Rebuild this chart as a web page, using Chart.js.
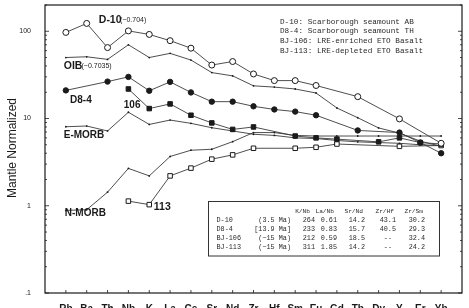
<!DOCTYPE html>
<html>
<head>
<meta charset="utf-8">
<script src="https://cdn.jsdelivr.net/npm/chart.js@4.4.1/dist/chart.umd.min.js"></script>
<style>
  html, body { margin: 0; padding: 0; background: #fff; }
  #wrap { width: 469px; height: 308px; }
</style>
</head>
<body>
<div id="wrap"><canvas id="spiderCanvas"></canvas></div>
<script>
// --------------------
// Data (mantle normalized)
// --------------------
const elements = ['Rb','Ba','Th','Nb','K','La','Ce','Sr','Nd','Zr','Hf','Sm','Eu','Gd','Tb','Dy','Y','Er','Yb'];

const d10   = [97, 123, 65, 101, 92, 78, 64, 41, 45, 32.4, 27.2, 27.2, 23.9, null, 17.8, null, 9.9, null, 5.2];
const oib   = [50, 51, 47.6, 70, 50, 55.8, 46.8, 33.6, 30.8, 23.7, 22.9, 21.8, 19.6, 13.2, 10.2, 7.8, 6.8, 5.5, 4.8];
const d84   = [21, null, 26.5, 30, 20.8, 26.3, 19.9, 15.6, 15.6, 13.8, 12.7, 12, 10.9, null, 7.3, null, 6.9, 5.3, 4.0];
const bj106 = [null, null, null, 21.8, 13, 14.7, 10.9, 8.9, 7.5, 8.0, null, 6.3, 6.0, 5.8, null, 5.4, 6.0, 5.3, 5.1];
const emorb = [8.05, 8.2, 7.2, 11.8, 8.55, 9.6, 8.8, 7.84, 7.2, 6.6, 6.4, 6.0, 5.9, 5.6, 5.4, 5.3, 5.2, 5.0, 4.9];
const nmorb = [0.885, 0.9, 1.43, 2.68, 2.2, 3.67, 4.33, 4.44, 5.43, 6.9, 6.9, 6.4, 6.3, 6.3, 6.3, 6.3, 6.3, 6.3, 6.3];
const bj113 = [null, null, null, 1.13, 1.03, 2.2, 2.7, 3.42, 3.83, 4.56, null, 4.56, 4.68, 5.1, null, null, 4.8, null, 4.9];

// sample descriptions and ratio table
const legendLines = [
    'D-10: Scarborough seamount AB',
    'D8-4: Scarborough seamount TH',
    'BJ-106: LRE-enriched ETO Basalt',
    'BJ-113: LRE-depleted ETO Basalt'
];
const tableHeaders = ['K/Nb', 'La/Nb', 'Sr/Nd', 'Zr/Hf', 'Zr/Sm'];
const sampleNames = ['D-10', 'D8-4', 'BJ-106', 'BJ-113'];
const sampleAges  = ['(3.5 Ma)', '[13.9 Ma]', '(~15 Ma)', '(~15 Ma)'];
const kNb  = ['264', '233', '212', '311'];
const laNb = ['0.61', '0.83', '0.59', '1.85'];
const srNd = ['14.2', '15.7', '18.5', '14.2'];
const zrHf = ['43.1', '40.5', '--', '--'];
const zrSm = ['30.2', '29.3', '32.4', '24.2'];

// --------------------
// Helpers
// --------------------
const toPoints = arr => arr.map((v, i) => ({ x: i, y: v }));
const INK = '#1a1a1a';
const LINE = '#3a3a3a';
const BOLD_FONT = '"Liberation Sans Narrow", "Liberation Sans", Arial, sans-serif';
const MONO_FONT = '"Liberation Mono", "DejaVu Sans Mono", monospace';

function series(data, opts) {
    return Object.assign({
        data: toPoints(data),
        borderColor: LINE,
        borderWidth: 0.9,
        pointBorderColor: INK,
        pointBorderWidth: 1,
        spanGaps: true,
        tension: 0
    }, opts);
}

// no extra label padding around the plot box
function fixBox(size) {
    return s => {
        if (s.isHorizontal()) s.height = size; else s.width = size;
        s.paddingTop = 0; s.paddingBottom = 0;
        s.paddingLeft = 0; s.paddingRight = 0;
    };
}

// --------------------
// Decorations: frame, inward ticks, labels, legend, table
// --------------------
const decorPlugin = {
    id: 'decor',
    afterDatasetsDraw(chart) {
        const { ctx, chartArea: a, scales: { x, y } } = chart;
        ctx.save();

        // frame
        ctx.strokeStyle = INK;
        ctx.lineWidth = 1.2;
        ctx.strokeRect(a.left, a.top, a.right - a.left, a.bottom - a.top);

        // inward y ticks, left and right
        ctx.lineWidth = 0.8;
        for (let e = -1; e <= 2; e++) {
            for (let m = 1; m <= 9; m++) {
                const v = m * Math.pow(10, e);
                if (v < 0.1 || v > 200) continue;
                const py = y.getPixelForValue(v);
                const len = m === 1 ? 4 : 2;
                ctx.beginPath();
                ctx.moveTo(a.left, py); ctx.lineTo(a.left + len, py);
                ctx.moveTo(a.right, py); ctx.lineTo(a.right - len, py);
                ctx.stroke();
            }
        }
        // inward x ticks
        elements.forEach((el, i) => {
            const px = x.getPixelForValue(i);
            ctx.beginPath();
            ctx.moveTo(px, a.bottom); ctx.lineTo(px, a.bottom - 3);
            ctx.stroke();
        });

        // series labels, placed in data space
        const label = (text, xi, yv, size, bold) => {
            ctx.font = (bold ? 'bold ' : '') + size + 'px ' + BOLD_FONT;
            ctx.fillStyle = INK;
            ctx.textAlign = 'left';
            ctx.textBaseline = 'middle';
            ctx.fillText(text, x.getPixelForValue(xi), y.getPixelForValue(yv));
        };
        label('D-10', 1.58, 133, 10.5, true);
        label('(~0.704)', 2.6, 133, 7, false);
        label('OIB', -0.1, 40, 10.5, true);
        label('(~0.7035)', 0.75, 40, 7, false);
        label('D8-4', 0.2, 16.4, 10, true);
        label('106', 2.78, 14.3, 10, true);
        label('E-MORB', -0.1, 6.4, 10, true);
        label('N-MORB', -0.05, 0.82, 10, true);
        label('113', 4.22, 0.96, 10.5, true);

        // sample description lines
        ctx.font = '7.7px ' + MONO_FONT;
        ctx.fillStyle = '#2a2a2a';
        ctx.textBaseline = 'middle';
        ctx.textAlign = 'left';
        legendLines.forEach((t, i) => ctx.fillText(t, 280, 21.7 + i * 9.7));

        // ratio table
        ctx.strokeStyle = '#333';
        ctx.lineWidth = 1;
        ctx.strokeRect(208.5, 201.5, 231, 54.5);
        const rowY = [211, 220, 229, 238.3, 247.3];
        const hdrRight = [310, 334, 363, 394, 423];
        const valRight = [315, 337, 365, 396, 425];
        ctx.textAlign = 'right';
        ctx.font = '6.2px ' + MONO_FONT;
        tableHeaders.forEach((h, j) => ctx.fillText(h, hdrRight[j], rowY[0]));
        ctx.font = '6.8px ' + MONO_FONT;
        const cols = [kNb, laNb, srNd, zrHf, zrSm];
        sampleNames.forEach((n, r) => {
            const ry = rowY[r + 1];
            ctx.textAlign = 'left';
            ctx.fillText(n, 216.5, ry);
            ctx.textAlign = 'right';
            ctx.fillText(sampleAges[r], 291, ry);
            cols.forEach((c, j) => {
                const off = c[r] === '--' ? -4 : 0;
                ctx.fillText(c[r], valRight[j] + off, ry);
            });
        });

        // y-axis title
        ctx.translate(13, 148);
        ctx.rotate(-Math.PI / 2);
        ctx.textAlign = 'center';
        ctx.font = '12px "Liberation Sans", Arial, sans-serif';
        ctx.fillStyle = INK;
        ctx.fillText('Mantle Normalized', 0, 0);

        ctx.restore();
    }
};

// --------------------
// Chart instance
// --------------------
const ctx = document.getElementById('spiderCanvas').getContext('2d');

new Chart(ctx, {
    type: 'line',
    data: {
        datasets: [
            series(d10,   { pointStyle: 'circle', pointRadius: 3, pointBackgroundColor: '#fff' }),
            series(d84,   { pointStyle: 'circle', pointRadius: 2.7, pointBackgroundColor: INK }),
            series(bj106, { pointStyle: 'rect', pointRadius: 3.2, pointBackgroundColor: INK }),
            series(bj113, { pointStyle: 'rect', pointRadius: 3.2, pointBackgroundColor: '#fff' }),
            series(oib,   { pointRadius: 0.9, pointBackgroundColor: INK, pointBorderWidth: 0 }),
            series(emorb, { pointRadius: 0.9, pointBackgroundColor: INK, pointBorderWidth: 0 }),
            series(nmorb, { pointRadius: 0.9, pointBackgroundColor: INK, pointBorderWidth: 0 })
        ]
    },
    options: {
        responsive: true,
        maintainAspectRatio: false,
        animation: false,
        layout: { padding: { top: 5, right: 7, left: 0, bottom: 0 } },
        plugins: {
            legend: { display: false },
            tooltip: { enabled: false }
        },
        scales: {
            x: {
                type: 'linear',
                min: -1,
                max: 19,
                afterFit: fixBox(15),
                grid: { display: false },
                border: { display: false },
                ticks: {
                    stepSize: 1,
                    autoSkip: false,
                    maxRotation: 0,
                    padding: 2,
                    color: INK,
                    font: { family: BOLD_FONT, size: 10, weight: 'bold' },
                    callback: v => elements[v] ?? ''
                }
            },
            y: {
                type: 'logarithmic',
                min: 0.1,
                max: 200,
                afterFit: fixBox(45),
                grid: { display: false },
                border: { display: false },
                ticks: {
                    autoSkip: false,
                    padding: 6,
                    color: INK,
                    font: { family: '"Liberation Sans", Arial, sans-serif', size: 7 },
                    callback: v => {
                        const lg = Math.log10(v);
                        if (Math.abs(lg - Math.round(lg)) > 1e-6) return '';
                        return v < 1 ? '.1' : String(Math.round(v));
                    }
                }
            }
        }
    },
    plugins: [decorPlugin]
});
</script>
</body>
</html>
